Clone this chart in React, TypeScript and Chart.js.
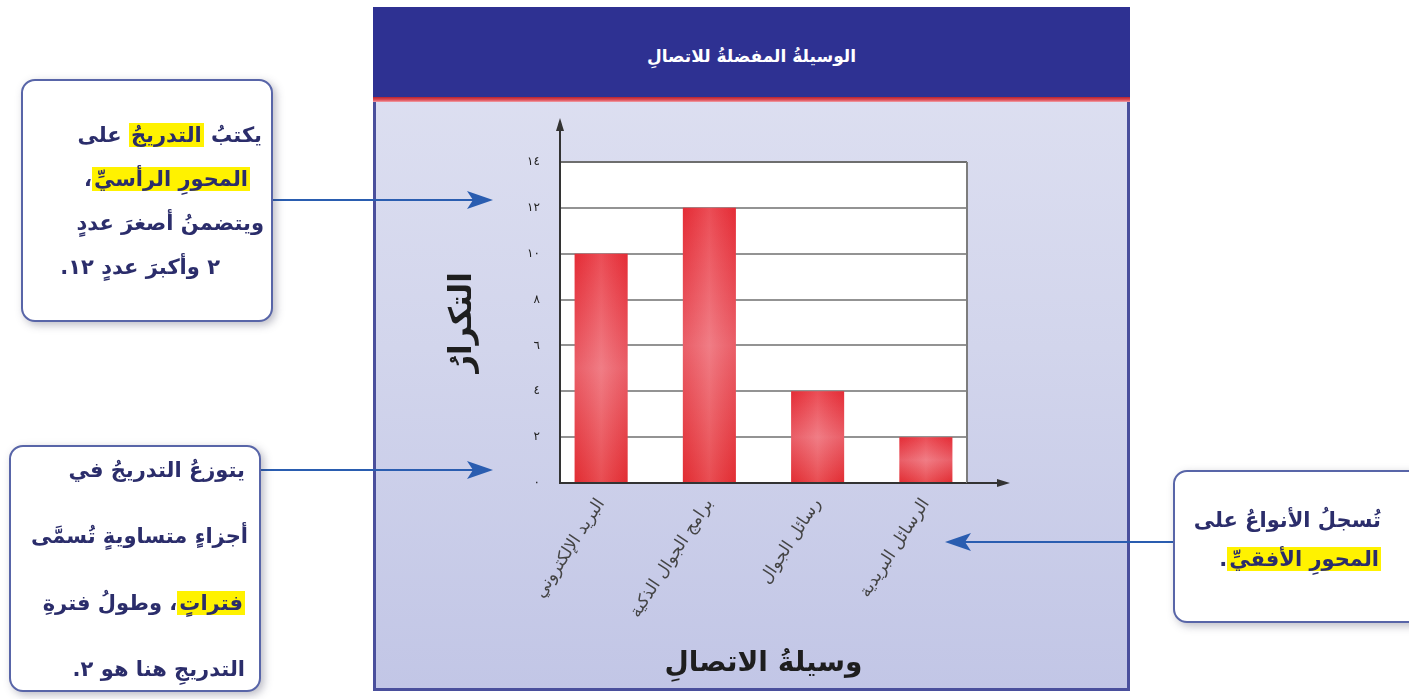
import React, { useEffect, useRef } from 'react';
import { Chart, registerables } from 'chart.js';

Chart.register(...registerables);

// ---- data ----
const categories = ['البريد الإلكتروني', 'برامج الجوال الذكية', 'رسائل الجوال', 'الرسائل البريدية'];
const frequencies = [10, 12, 4, 2];
const yTickValues = [0, 2, 4, 6, 8, 10, 12, 14];
const chartTitle = 'الوسيلةُ المفضلةُ للاتصالِ';
const xAxisTitle = 'وسيلةُ الاتصالِ';
const yAxisTitle = 'التكرارُ';

const arabicDigits = '٠١٢٣٤٥٦٧٨٩';
const toArabic = (n: number) => String(n).replace(/[0-9]/g, (d) => arabicDigits[+d]);

const W = 1409;
const H = 699;
const FONT = '"DejaVu Sans", sans-serif';

const decorPlugin = {
  id: 'decor',
  beforeDraw(chart: any) {
    const { ctx, chartArea: a } = chart;
    ctx.save();
    ctx.fillStyle = '#ffffff';
    ctx.fillRect(a.left, a.top, a.right - a.left, a.bottom - a.top);
    ctx.restore();
  },
  afterDatasetsDraw(chart: any) {
    const { ctx } = chart;
    const meta = chart.getDatasetMeta(0);
    ctx.save();
    meta.data.forEach((el: any) => {
      const { x, y, base, width } = el.getProps(['x', 'y', 'base', 'width'], true);
      const g = ctx.createLinearGradient(x - width / 2, 0, x + width / 2, 0);
      g.addColorStop(0, 'rgba(200,20,25,0.12)');
      g.addColorStop(0.5, 'rgba(255,255,255,0.14)');
      g.addColorStop(1, 'rgba(200,20,25,0.12)');
      ctx.fillStyle = g;
      ctx.fillRect(x - width / 2, y, width, base - y);
    });
    ctx.restore();
  },
  afterDraw(chart: any) {
    const { ctx, chartArea: a } = chart;
    ctx.save();
    ctx.strokeStyle = '#7d7d7d';
    ctx.lineWidth = 2;
    ctx.beginPath();
    ctx.moveTo(a.right, a.top);
    ctx.lineTo(a.right, a.bottom);
    ctx.stroke();
    ctx.strokeStyle = '#333';
    ctx.fillStyle = '#333';
    ctx.beginPath();
    ctx.moveTo(a.left, a.top);
    ctx.lineTo(a.left, a.top - 34);
    ctx.stroke();
    ctx.beginPath();
    ctx.moveTo(a.left, a.top - 44);
    ctx.lineTo(a.left - 4, a.top - 31);
    ctx.lineTo(a.left + 4, a.top - 31);
    ctx.closePath();
    ctx.fill();
    ctx.beginPath();
    ctx.moveTo(a.right, a.bottom);
    ctx.lineTo(a.right + 33, a.bottom);
    ctx.stroke();
    ctx.beginPath();
    ctx.moveTo(a.right + 43, a.bottom);
    ctx.lineTo(a.right + 30, a.bottom - 4);
    ctx.lineTo(a.right + 30, a.bottom + 4);
    ctx.closePath();
    ctx.fill();
    ctx.restore();
  },
};

function BarChart() {
  const ref = useRef<HTMLCanvasElement | null>(null);
  useEffect(() => {
    if (!ref.current) return;
    const chart = new Chart(ref.current, {
      type: 'bar',
      data: {
        datasets: [
          {
            data: frequencies.map((v, i) => ({ x: i, y: v })),
            backgroundColor: (c: any) => {
              const ch = c.chart;
              if (c.type !== 'data' || !ch.chartArea || !ch.scales.y) return '#e63a40';
              const ys = ch.scales.y;
              const top = ys.getPixelForValue(c.raw.y);
              const base = ys.getPixelForValue(0);
              const g = ch.ctx.createLinearGradient(0, top, 0, base);
              g.addColorStop(0, '#e8303a');
              g.addColorStop(0.5, '#ee6872');
              g.addColorStop(1, '#e53036');
              return g;
            },
            borderWidth: 0,
            barPercentage: 0.49,
            categoryPercentage: 1,
          },
        ],
      },
      options: {
        animation: false,
        responsive: false,
        maintainAspectRatio: false,
        events: [],
        layout: { padding: { left: 0, top: 162, right: W - 967, bottom: 0 } },
        plugins: {
          legend: { display: false },
          tooltip: { enabled: false },
          title: { display: false },
        },
        scales: {
          x: {
            type: 'linear',
            min: -0.38,
            max: 3.38,
            offset: false,
            afterBuildTicks: (s: any) => {
              s.ticks = categories.map((_, i) => ({ value: i }));
            },
            afterFit: (s: any) => {
              s.height = H - 483;
            },
            grid: { display: false, drawTicks: false },
            border: { display: true, color: '#333', width: 2 },
            ticks: {
              autoSkip: false,
              minRotation: 57,
              maxRotation: 57,
              padding: 12,
              color: '#444',
              font: { family: FONT, size: 17 },
              callback: (v: any) => categories[v] ?? '',
            },
            title: {
              display: true,
              text: xAxisTitle,
              color: '#1e1e1e',
              font: { family: FONT, size: 28, weight: 'bold' },
              padding: { top: 0, bottom: 18 },
            },
          },
          y: {
            min: 0,
            max: 14,
            afterBuildTicks: (s: any) => {
              s.ticks = yTickValues.map((v) => ({ value: v }));
            },
            afterFit: (s: any) => {
              s.width = 560;
            },
            grid: {
              color: (c: any) => (c.tick && c.tick.value === 14 ? '#6e6e6e' : '#939393'),
              lineWidth: 2,
              drawTicks: false,
            },
            border: { display: true, color: '#333', width: 2 },
            ticks: {
              padding: 20,
              color: '#222',
              font: { family: FONT, size: 12 },
              callback: (v: any) => toArabic(v),
            },
            title: {
              display: true,
              text: yAxisTitle,
              color: '#1e1e1e',
              font: { family: FONT, size: 31, weight: 'bold' },
              padding: { top: 444, bottom: 0 },
            },
          },
        },
      },
      plugins: [decorPlugin],
    } as any);
    return () => chart.destroy();
  }, []);
  return (
    <canvas
      ref={ref}
      width={W}
      height={H}
      style={{ position: 'absolute', left: 0, top: 0, width: W, height: H }}
    />
  );
}

const mark = (t: string) => (
  <span style={{ background: '#fff200', padding: '0 2px' }}>{t}</span>
);

type Line = { content: React.ReactNode; right: number; y: number };

function Callout(props: { left: number; top: number; width: number; height: number; lines: Line[] }) {
  const { left, top, width, height, lines } = props;
  return (
    <div
      style={{
        position: 'absolute',
        left,
        top,
        width,
        height,
        boxSizing: 'border-box',
        background: '#ffffff',
        border: '2px solid #5865a8',
        borderRadius: 14,
        boxShadow: '3px 3px 9px rgba(60,60,90,0.35)',
      }}
    >
      {lines.map((l, i) => (
        <div
          key={i}
          style={{
            position: 'absolute',
            right: l.right,
            top: l.y - 15,
            height: 30,
            lineHeight: '30px',
            direction: 'rtl',
            whiteSpace: 'nowrap',
            fontFamily: FONT,
            fontWeight: 'bold',
            fontSize: 21,
            color: '#2b2d6b',
          }}
        >
          {l.content}
        </div>
      ))}
    </div>
  );
}

function Connectors() {
  const c = '#2a5db0';
  return (
    <svg width={W} height={H} style={{ position: 'absolute', left: 0, top: 0 }}>
      <line x1={272} y1={200} x2={474} y2={200} stroke={c} strokeWidth={2} />
      <polygon points="493,200 467,191 473,200 467,209" fill={c} />
      <line x1={260} y1={470} x2={474} y2={470} stroke={c} strokeWidth={2} />
      <polygon points="493,470 467,461 473,470 467,479" fill={c} />
      <line x1={1174} y1={542} x2={964} y2={542} stroke={c} strokeWidth={2} />
      <polygon points="945,542 971,533 965,542 971,551" fill={c} />
    </svg>
  );
}

export default function App() {
  return (
    <div
      style={{
        position: 'fixed',
        left: 0,
        top: 0,
        width: W,
        height: H,
        background: '#ffffff',
        overflow: 'hidden',
      }}
    >
      <div
        style={{
          position: 'absolute',
          left: 373,
          top: 7,
          width: 1130 - 373,
          height: 691 - 7,
          boxSizing: 'border-box',
          border: '3px solid #4a4f9c',
          borderTop: 'none',
          background: 'linear-gradient(180deg, #e0e2f2 0%, #d2d5ec 50%, #c2c6e6 100%)',
        }}
      >
        <div
          style={{
            position: 'absolute',
            left: -3,
            right: -3,
            top: 0,
            height: 90,
            background: '#2e3192',
            color: '#ffffff',
            fontFamily: FONT,
            fontWeight: 'bold',
            fontSize: 17,
            textAlign: 'center',
            lineHeight: '98px',
            direction: 'rtl',
          }}
        >
          {chartTitle}
        </div>
        <div
          style={{
            position: 'absolute',
            left: -3,
            right: -3,
            top: 90,
            height: 5,
            background: 'linear-gradient(180deg, #b8232f 0%, #e0505a 60%, #f0a0a8 100%)',
          }}
        />
      </div>
      <BarChart />
      <Connectors />
      <Callout
        left={21}
        top={79}
        width={252}
        height={243}
        lines={[
          { content: <>يكتبُ {mark('التدريجُ')} على</>, right: 9, y: 54 },
          { content: <>{mark('المحورِ الرأسيِّ')}،</>, right: 21, y: 98 },
          { content: <>ويتضمنُ أصغرَ عددٍ</>, right: 7, y: 142 },
          { content: <>٢ وأكبرَ عددٍ ١٢.</>, right: 51, y: 186 },
        ]}
      />
      <Callout
        left={9}
        top={445}
        width={252}
        height={247}
        lines={[
          { content: <>يتوزعُ التدريجُ في</>, right: 14, y: 23 },
          { content: <>أجزاءٍ متساويةٍ تُسمَّى</>, right: 11, y: 89 },
          { content: <>{mark('فتراتٍ')}، وطولُ فترةِ</>, right: 14, y: 156 },
          { content: <>التدريجِ هنا هو ٢.</>, right: 14, y: 222 },
        ]}
      />
      <Callout
        left={1173}
        top={470}
        width={262}
        height={153}
        lines={[
          { content: <>تُسجلُ الأنواعُ على</>, right: 52, y: 48 },
          { content: <>{mark('المحورِ الأفقيِّ')}.</>, right: 52, y: 87 },
        ]}
      />
    </div>
  );
}
